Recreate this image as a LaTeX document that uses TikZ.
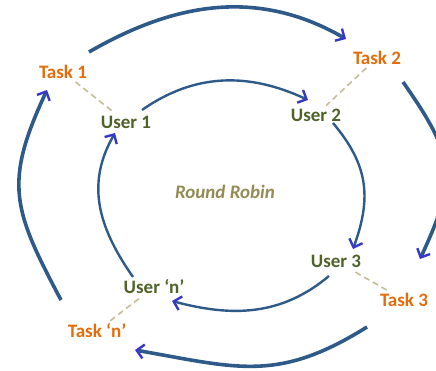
\documentclass[tikz,border=0pt]{standalone}
\usepackage{fontspec}
\setmainfont{Carlito}
\usetikzlibrary{arrows.meta}

\definecolor{taskorange}{HTML}{E46C0A}
\definecolor{usergreen}{HTML}{4F6228}
\definecolor{rrtan}{HTML}{948A54}
\definecolor{ringblue}{HTML}{2E5A8A}
\definecolor{tipblue}{HTML}{3636C8}
\definecolor{linktan}{HTML}{C4BD97}

\begin{document}
\begin{tikzpicture}[x=1pt, y=1pt,
    tip/.style={-{Straight Barb[length=7pt,width=14pt,line width=2.4pt,color=tipblue]}},
    inner/.style={tip, draw=ringblue, line width=2.4pt},
    outer/.style={tip, draw=ringblue, line width=3.6pt},
    link/.style={draw=linktan, line width=1.6pt, dash pattern=on 6pt off 4pt}]
	  \useasboundingbox (0,0) rectangle (436,371);
	  \tikzstyle{every node} = [font=\fontsize{19}{22}\selectfont\bfseries, inner sep=3pt]
	  % tasks and users
	  \node[text=taskorange] (t1) at (63, 299) {Task 1};
	  \node[text=taskorange] (t2) at (377, 313) {Task 2};
	  \node[text=taskorange] (t3) at (404, 71) {Task 3};
	  \node[text=taskorange] (tn) at (97, 40) {Task `n'};
	  \node[text=usergreen] (u1) at (126, 249) {User 1};
	  \node[text=usergreen] (u2) at (316, 256) {User 2};
	  \node[text=usergreen] (u3) at (336, 110) {User 3};
	  \node[text=usergreen] (un) at (154, 84) {User `n'};
	  \node[text=rrtan, font=\fontsize{19}{22}\selectfont\bfseries\itshape] (rr) at (225, 179) {Round Robin};
	  % arc ends
	  \coordinate (a1s) at (142, 261); \coordinate (a1e) at (308, 271);
	  \coordinate (a2s) at (333, 248); \coordinate (a2e) at (353, 122);
	  \coordinate (a3s) at (329, 95);  \coordinate (a3e) at (172, 70);
	  \coordinate (a4s) at (133, 94);  \coordinate (a4e) at (115, 238);
	  \coordinate (b1s) at (89, 319);  \coordinate (b1e) at (346, 332);
	  \coordinate (b2s) at (403, 289); \coordinate (b2e) at (420, 112);
	  \coordinate (b3s) at (367, 44);  \coordinate (b3e) at (135, 21);
	  \coordinate (b4s) at (61, 71);   \coordinate (b4e) at (47, 281);
	  \foreach \t/\u in {t1/u1, t2/u2, t3/u3, tn/un}
	    \draw[link] (\t) -- (\u);
	  % inner ring
	  \draw[inner] (a1s) to[out=35, in=155] (a1e);
	  \draw[inner] (a2s) to[out=-50, in=70, looseness=1.1] (a2e);
	  \draw[inner] (a3s) to[out=220, in=-15] (a3e);
	  \draw[inner] (a4s) to[out=125, in=240, looseness=1.05] (a4e);
	  % outer ring
	  \draw[outer] (b1s) to[out=30, in=150] (b1e);
	  \draw[outer] (b2s) to[out=-55, in=65, looseness=1.3] (b2e);
	  \draw[outer] (b3s) to[out=212, in=-10, looseness=1.15] (b3e);
	  \draw[outer] (b4s) to[out=118, in=245, looseness=1.25] (b4e);
	\end{tikzpicture}
\end{document}
